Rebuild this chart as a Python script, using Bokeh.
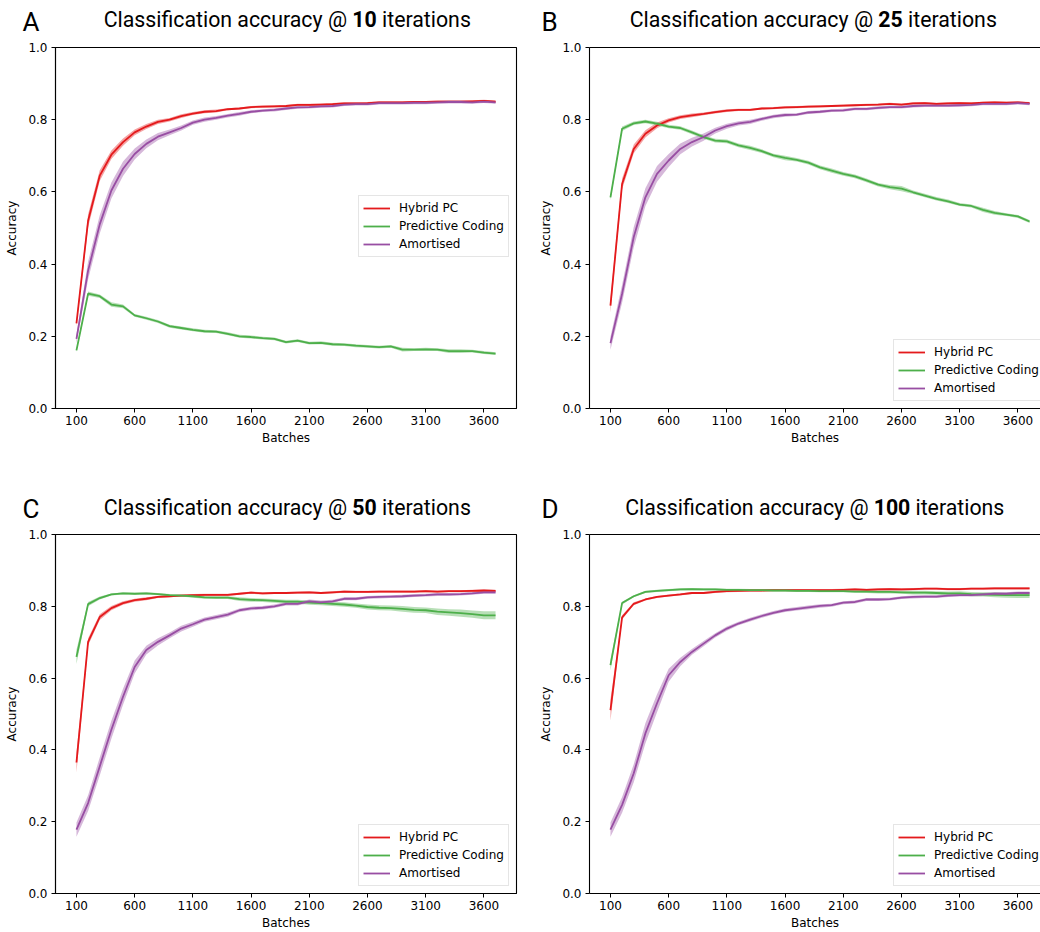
from bokeh.plotting import figure
from bokeh.layouts import column, row
from bokeh.models import Label, FixedTicker, NumeralTickFormatter, LinearAxis, Range1d
from bokeh.embed import file_html
from bokeh.resources import INLINE

# ---------------- data ----------------
batches = [100, 200, 300, 400, 500, 600, 700, 800, 900, 1000, 1100, 1200, 1300,
           1400, 1500, 1600, 1700, 1800, 1900, 2000, 2100, 2200, 2300, 2400, 2500,
           2600, 2700, 2800, 2900, 3000, 3100, 3200, 3300, 3400, 3500, 3600, 3700]
x_ticks = [100, 600, 1100, 1600, 2100, 2600, 3100, 3600]
y_ticks = [0.0, 0.2, 0.4, 0.6, 0.8, 1.0]
iterations = ["10", "25", "50", "100"]
letters = ["A", "B", "C", "D"]
series_names = ["Hybrid PC", "Predictive Coding", "Amortised"]

# Panel A (10 iterations)
A_hybrid = [0.236, 0.520, 0.645, 0.703, 0.738, 0.765, 0.781, 0.794, 0.800, 0.810, 0.817, 0.822, 0.824,
            0.829, 0.831, 0.835, 0.836, 0.837, 0.838, 0.841, 0.841, 0.842, 0.843, 0.845, 0.845,
            0.846, 0.848, 0.848, 0.848, 0.849, 0.849, 0.850, 0.850, 0.850, 0.851, 0.852, 0.850]
A_pc = [0.161, 0.318, 0.311, 0.288, 0.283, 0.258, 0.250, 0.241, 0.228, 0.223, 0.218, 0.214, 0.213,
        0.207, 0.200, 0.198, 0.195, 0.193, 0.184, 0.188, 0.181, 0.182, 0.178, 0.177, 0.174,
        0.172, 0.170, 0.172, 0.163, 0.163, 0.164, 0.163, 0.159, 0.159, 0.159, 0.155, 0.152]
A_amort = [0.193, 0.382, 0.510, 0.604, 0.664, 0.705, 0.733, 0.753, 0.765, 0.777, 0.792, 0.800, 0.805,
           0.811, 0.816, 0.822, 0.825, 0.827, 0.831, 0.834, 0.835, 0.837, 0.838, 0.842, 0.843,
           0.843, 0.846, 0.846, 0.846, 0.847, 0.847, 0.848, 0.849, 0.849, 0.848, 0.850, 0.848]
A_hybrid_sd = [0.008, 0.018, 0.015, 0.012, 0.010, 0.008, 0.007, 0.006, 0.005, 0.005, 0.004, 0.004, 0.004,
               0.003, 0.003, 0.003, 0.003, 0.003, 0.003, 0.003, 0.003, 0.003, 0.003, 0.003, 0.003,
               0.003, 0.003, 0.003, 0.003, 0.003, 0.003, 0.003, 0.003, 0.003, 0.003, 0.003, 0.003]
A_pc_sd = [0.004, 0.006, 0.005, 0.006, 0.005, 0.004, 0.004, 0.004, 0.004, 0.004, 0.004, 0.004, 0.004,
           0.004, 0.004, 0.004, 0.004, 0.004, 0.004, 0.004, 0.004, 0.004, 0.004, 0.004, 0.004,
           0.004, 0.004, 0.004, 0.005, 0.004, 0.004, 0.004, 0.005, 0.005, 0.004, 0.004, 0.004]
A_amort_sd = [0.012, 0.025, 0.025, 0.022, 0.020, 0.015, 0.012, 0.010, 0.008, 0.007, 0.006, 0.006, 0.005,
              0.005, 0.005, 0.004, 0.004, 0.004, 0.004, 0.004, 0.004, 0.004, 0.004, 0.004, 0.004,
              0.004, 0.004, 0.004, 0.004, 0.004, 0.004, 0.004, 0.004, 0.004, 0.004, 0.004, 0.004]

# Panel B (25 iterations)
B_hybrid = [0.285, 0.622, 0.719, 0.761, 0.784, 0.798, 0.807, 0.812, 0.816, 0.821, 0.825, 0.827, 0.827,
            0.831, 0.832, 0.834, 0.835, 0.836, 0.837, 0.838, 0.839, 0.840, 0.841, 0.842, 0.844,
            0.842, 0.845, 0.846, 0.844, 0.845, 0.846, 0.845, 0.847, 0.848, 0.847, 0.848, 0.846]
B_pc = [0.585, 0.775, 0.790, 0.795, 0.789, 0.781, 0.777, 0.765, 0.752, 0.742, 0.740, 0.729, 0.722,
        0.713, 0.701, 0.694, 0.689, 0.681, 0.668, 0.659, 0.650, 0.643, 0.632, 0.620, 0.613,
        0.609, 0.599, 0.590, 0.581, 0.574, 0.565, 0.561, 0.550, 0.542, 0.537, 0.532, 0.518]
B_amort = [0.181, 0.318, 0.475, 0.585, 0.650, 0.687, 0.719, 0.738, 0.752, 0.770, 0.782, 0.790, 0.794,
           0.802, 0.809, 0.813, 0.814, 0.820, 0.822, 0.825, 0.826, 0.830, 0.830, 0.833, 0.835,
           0.835, 0.838, 0.839, 0.839, 0.839, 0.840, 0.841, 0.844, 0.844, 0.844, 0.846, 0.844]
B_hybrid_sd = [0.020, 0.015, 0.012, 0.010, 0.008, 0.006, 0.005, 0.005, 0.004, 0.004, 0.004, 0.003, 0.003,
               0.003, 0.003, 0.003, 0.003, 0.003, 0.003, 0.003, 0.003, 0.003, 0.003, 0.003, 0.003,
               0.003, 0.003, 0.003, 0.003, 0.003, 0.003, 0.003, 0.003, 0.003, 0.003, 0.003, 0.003]
B_pc_sd = [0.008, 0.006, 0.005, 0.005, 0.005, 0.005, 0.005, 0.005, 0.005, 0.005, 0.005, 0.005, 0.006,
           0.005, 0.005, 0.006, 0.005, 0.005, 0.005, 0.006, 0.005, 0.005, 0.005, 0.005, 0.006,
           0.007, 0.005, 0.005, 0.005, 0.005, 0.004, 0.004, 0.006, 0.005, 0.004, 0.004, 0.004]
B_amort_sd = [0.018, 0.025, 0.028, 0.025, 0.022, 0.018, 0.015, 0.012, 0.010, 0.008, 0.007, 0.006, 0.006,
              0.005, 0.005, 0.005, 0.004, 0.004, 0.004, 0.004, 0.004, 0.004, 0.004, 0.004, 0.004,
              0.004, 0.004, 0.004, 0.004, 0.004, 0.004, 0.004, 0.004, 0.004, 0.004, 0.004, 0.004]

# Panel C (50 iterations)
C_hybrid = [0.365, 0.701, 0.770, 0.795, 0.809, 0.817, 0.821, 0.826, 0.828, 0.830, 0.831, 0.832, 0.832,
            0.832, 0.835, 0.838, 0.836, 0.837, 0.837, 0.838, 0.839, 0.837, 0.839, 0.841, 0.840,
            0.840, 0.841, 0.841, 0.841, 0.841, 0.842, 0.841, 0.842, 0.842, 0.843, 0.844, 0.843]
C_pc = [0.659, 0.806, 0.823, 0.833, 0.836, 0.835, 0.836, 0.834, 0.831, 0.830, 0.828, 0.825, 0.824,
        0.824, 0.820, 0.818, 0.817, 0.815, 0.813, 0.813, 0.810, 0.809, 0.807, 0.805, 0.802,
        0.798, 0.796, 0.795, 0.793, 0.790, 0.789, 0.785, 0.783, 0.781, 0.778, 0.775, 0.775]
C_amort = [0.178, 0.252, 0.354, 0.456, 0.548, 0.631, 0.678, 0.701, 0.719, 0.738, 0.750, 0.763, 0.770,
           0.777, 0.789, 0.794, 0.796, 0.800, 0.807, 0.807, 0.814, 0.811, 0.814, 0.821, 0.821,
           0.825, 0.826, 0.827, 0.828, 0.830, 0.831, 0.833, 0.833, 0.834, 0.836, 0.839, 0.839]
C_hybrid_sd = [0.028, 0.010, 0.008, 0.006, 0.005, 0.004, 0.004, 0.003, 0.003, 0.003, 0.003, 0.003, 0.003,
               0.003, 0.003, 0.003, 0.003, 0.003, 0.003, 0.003, 0.003, 0.003, 0.003, 0.003, 0.003,
               0.003, 0.003, 0.003, 0.003, 0.003, 0.003, 0.003, 0.003, 0.003, 0.003, 0.003, 0.003]
C_pc_sd = [0.020, 0.006, 0.004, 0.003, 0.003, 0.003, 0.003, 0.003, 0.003, 0.003, 0.004, 0.004, 0.004,
           0.004, 0.005, 0.005, 0.005, 0.005, 0.005, 0.005, 0.006, 0.006, 0.006, 0.006, 0.006,
           0.007, 0.007, 0.007, 0.008, 0.008, 0.008, 0.009, 0.009, 0.010, 0.010, 0.011, 0.011]
C_amort_sd = [0.020, 0.022, 0.025, 0.025, 0.022, 0.018, 0.012, 0.010, 0.008, 0.008, 0.007, 0.006, 0.006,
              0.006, 0.005, 0.005, 0.005, 0.005, 0.005, 0.005, 0.005, 0.005, 0.004, 0.004, 0.004,
              0.004, 0.004, 0.004, 0.004, 0.004, 0.004, 0.004, 0.004, 0.004, 0.004, 0.004, 0.004]

# Panel D (100 iterations)
D_hybrid = [0.511, 0.769, 0.807, 0.819, 0.826, 0.830, 0.833, 0.837, 0.837, 0.840, 0.842, 0.843, 0.844,
            0.844, 0.845, 0.845, 0.845, 0.845, 0.845, 0.845, 0.846, 0.847, 0.846, 0.847, 0.848,
            0.847, 0.848, 0.849, 0.849, 0.848, 0.848, 0.849, 0.849, 0.850, 0.850, 0.850, 0.850]
D_pc = [0.636, 0.809, 0.828, 0.840, 0.843, 0.845, 0.847, 0.848, 0.847, 0.847, 0.846, 0.846, 0.845,
        0.845, 0.844, 0.844, 0.843, 0.843, 0.842, 0.842, 0.842, 0.841, 0.841, 0.840, 0.840,
        0.839, 0.838, 0.838, 0.837, 0.836, 0.836, 0.834, 0.833, 0.832, 0.831, 0.831, 0.831]
D_amort = [0.178, 0.247, 0.335, 0.446, 0.530, 0.608, 0.645, 0.673, 0.696, 0.719, 0.738, 0.752, 0.763,
           0.773, 0.782, 0.789, 0.793, 0.797, 0.801, 0.803, 0.810, 0.812, 0.819, 0.819, 0.820,
           0.824, 0.826, 0.827, 0.827, 0.830, 0.831, 0.831, 0.833, 0.835, 0.835, 0.837, 0.837]
D_hybrid_sd = [0.030, 0.006, 0.004, 0.003, 0.003, 0.003, 0.003, 0.003, 0.003, 0.003, 0.003, 0.003, 0.003,
               0.003, 0.003, 0.003, 0.003, 0.003, 0.003, 0.003, 0.003, 0.003, 0.003, 0.003, 0.003,
               0.003, 0.003, 0.003, 0.003, 0.003, 0.003, 0.003, 0.003, 0.003, 0.003, 0.003, 0.003]
D_pc_sd = [0.015, 0.004, 0.003, 0.003, 0.003, 0.003, 0.003, 0.003, 0.003, 0.003, 0.003, 0.003, 0.003,
           0.003, 0.003, 0.003, 0.003, 0.003, 0.003, 0.003, 0.003, 0.003, 0.004, 0.004, 0.004,
           0.004, 0.005, 0.005, 0.005, 0.005, 0.006, 0.006, 0.006, 0.007, 0.007, 0.008, 0.008]
D_amort_sd = [0.020, 0.022, 0.025, 0.028, 0.025, 0.018, 0.012, 0.008, 0.007, 0.006, 0.006, 0.005, 0.005,
              0.005, 0.005, 0.005, 0.005, 0.005, 0.005, 0.004, 0.004, 0.004, 0.004, 0.004, 0.004,
              0.004, 0.004, 0.004, 0.004, 0.004, 0.004, 0.004, 0.004, 0.004, 0.004, 0.004, 0.004]

panels = [
    (A_hybrid, A_pc, A_amort, A_hybrid_sd, A_pc_sd, A_amort_sd),
    (B_hybrid, B_pc, B_amort, B_hybrid_sd, B_pc_sd, B_amort_sd),
    (C_hybrid, C_pc, C_amort, C_hybrid_sd, C_pc_sd, C_amort_sd),
    (D_hybrid, D_pc, D_amort, D_hybrid_sd, D_pc_sd, D_amort_sd),
]

# ---------------- style ----------------
COLORS = ["#e41a1c", "#4daf4a", "#984ea3"]
TICK_FONT = "DejaVu Sans"
TICK_SIZE = "12px"
TITLE_FONT = "Roboto"
TITLE_PX = 21.3
LETTER_PX = 26
PXU = 461.0 / 3960.0   # pixels per batch unit

title_bold_center = [364, 890, 364, 891.5]
legend_locs = [(303, 151), (304, 7), (303, 7), (304, 7)]

# layout geometry (page pixels, origin at top-left)
COL_LEFT = [0, 530]
COL_W = [530, 510]
COL_MBL = [55, 59]
COL_MBR = [14, 0]
ROW_TOP = [0, 478]
TITLE_H = [39, 48]
MAIN_H = [439, 406]
FRAME_H = [361, 360]
MB_TOP = 8


def make_title(k):
    c = k % 2
    r = k // 2
    width = COL_W[c]
    height = TITLE_H[r]
    fig_left = COL_LEFT[c]
    fig_top = ROW_TOP[r]
    t = figure(width=width, height=height, x_range=Range1d(0, width), y_range=Range1d(0, height),
               x_axis_type=None, y_axis_type=None, min_border=0, toolbar_location=None,
               output_backend="svg", title_location=None)
    t.outline_line_color = None
    t.grid.visible = False

    def lx(px):
        return px - fig_left

    def ly(py):
        return height - (py - fig_top)

    # vertical centres of the text boxes (baseline minus half of ascent-descent)
    tb = (26 if r == 0 else 514) - 0.345 * TITLE_PX
    bc = title_bold_center[k]
    num = iterations[k]
    bw = 0.5615 * TITLE_PX * len(num)
    gap = 0.26 * TITLE_PX
    fs = "%.1fpx" % TITLE_PX
    t.add_layout(Label(x=lx(bc - bw / 2 - gap), y=ly(tb), text="Classification accuracy @",
                       text_font=TITLE_FONT, text_font_size=fs, text_align="right",
                       text_baseline="middle", text_color="black"))
    t.add_layout(Label(x=lx(bc), y=ly(tb), text=num, text_font=TITLE_FONT, text_font_size=fs,
                       text_font_style="bold", text_align="center", text_baseline="middle",
                       text_color="black"))
    t.add_layout(Label(x=lx(bc + bw / 2 + gap), y=ly(tb), text="iterations",
                       text_font=TITLE_FONT, text_font_size=fs, text_align="left",
                       text_baseline="middle", text_color="black"))
    letter_x = 22 if c == 0 else 541
    letter_c = (30 if r == 0 else 517) - 0.345 * LETTER_PX
    t.add_layout(Label(x=lx(letter_x), y=ly(letter_c), text=letters[k], text_font=TITLE_FONT,
                       text_font_size="%dpx" % LETTER_PX, text_align="left",
                       text_baseline="middle", text_color="black"))
    return t


def make_panel(k):
    c = k % 2
    r = k // 2
    width = COL_W[c]
    height = MAIN_H[r]
    mbl = COL_MBL[c]
    mbr = COL_MBR[c]
    fh = FRAME_H[r]
    mbb = height - MB_TOP - fh
    fw = width - mbl - mbr
    x0 = -80.0
    x1 = x0 + fw / PXU

    p = figure(width=width, height=height, x_range=Range1d(x0, x1), y_range=Range1d(0, 1),
               output_backend="svg", toolbar_location=None, title_location=None,
               min_border_left=mbl, min_border_right=mbr, min_border_top=MB_TOP,
               min_border_bottom=mbb)
    p.grid.visible = False
    p.background_fill_color = "white"
    p.border_fill_color = "white"

    xa = p.below[0]
    ya = p.left[0]
    for ax in (xa, ya):
        ax.axis_line_color = "black"
        ax.axis_line_width = 1.1
        ax.major_tick_line_color = "black"
        ax.major_tick_line_width = 1.0
        ax.major_tick_in = 0
        ax.major_tick_out = 4
        ax.minor_tick_line_color = None
        ax.major_label_text_font = TICK_FONT
        ax.major_label_text_font_size = TICK_SIZE
        ax.major_label_text_color = "black"
        ax.axis_label_text_font = TICK_FONT
        ax.axis_label_text_font_size = TICK_SIZE
        ax.axis_label_text_font_style = "normal"
        ax.axis_label_text_color = "black"
    xa.ticker = FixedTicker(ticks=x_ticks)
    xa.axis_label = "Batches"
    xa.major_label_standoff = 3
    xa.axis_label_standoff = 3
    ya.ticker = FixedTicker(ticks=y_ticks)
    ya.formatter = NumeralTickFormatter(format="0.0")
    ya.major_label_standoff = 4
    ya.axis_label = "Accuracy"
    ya.axis_label_standoff = 6

    if c == 0:
        p.outline_line_color = "black"
        p.outline_line_width = 1.1
        p.outline_line_alpha = 1.0
    else:
        p.outline_line_color = None
        top_axis = LinearAxis(ticker=FixedTicker(ticks=[]), axis_line_color="black",
                              axis_line_width=1.1, major_tick_line_color=None,
                              minor_tick_line_color=None, major_tick_in=0, major_tick_out=0,
                              major_label_standoff=0, major_label_text_font_size="0px")
        p.add_layout(top_axis, "above")

    hyb, pc, am, hyb_sd, pc_sd, am_sd = panels[k]
    for vals, sds, color in zip((hyb, pc, am), (hyb_sd, pc_sd, am_sd), COLORS):
        lo = [v - s for v, s in zip(vals, sds)]
        hi = [v + s for v, s in zip(vals, sds)]
        p.varea(x=batches, y1=lo, y2=hi, fill_color=color, fill_alpha=0.4)
    for vals, color, name in zip((hyb, pc, am), COLORS, series_names):
        p.line(x=batches, y=vals, line_color=color, line_width=1.8, legend_label=name)

    lg = p.legend[0]
    lg.location = legend_locs[k]
    lg.label_text_font = TICK_FONT
    lg.label_text_font_size = TICK_SIZE
    lg.label_text_color = "black"
    lg.border_line_color = "#cccccc"
    lg.border_line_width = 1
    lg.background_fill_alpha = 0.85
    lg.padding = 4
    lg.spacing = 2
    lg.margin = 0
    lg.label_height = 16
    lg.glyph_height = 16
    lg.glyph_width = 27
    lg.label_standoff = 9
    return p


titles = [make_title(k) for k in range(4)]
figs = [make_panel(k) for k in range(4)]
layout = column(row(titles[0], titles[1]), row(figs[0], figs[1]),
                row(titles[2], titles[3]), row(figs[2], figs[3]))

open("out.html", "w").write(file_html(layout, INLINE))
